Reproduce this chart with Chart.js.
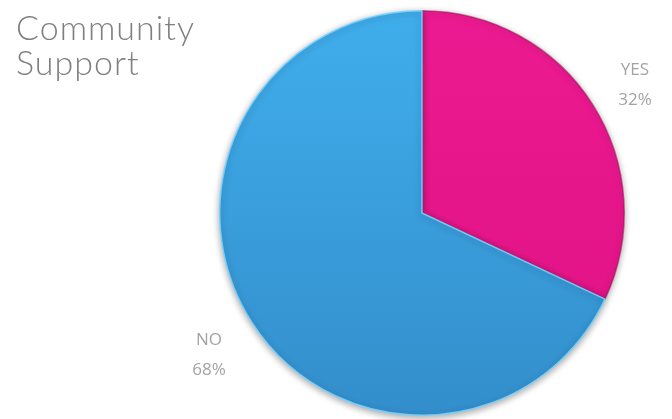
<!DOCTYPE html>
<html>
<head>
<meta charset="utf-8">
<style>
  html, body { margin: 0; padding: 0; background: #ffffff; }
  #wrap { width: 672px; height: 419px; position: relative; }
</style>
<script src="https://cdn.jsdelivr.net/npm/chart.js@4/dist/chart.umd.min.js"></script>
</head>
<body>
<div id="wrap"><canvas id="c" width="672" height="419"></canvas></div>
<script>
// Survey answers and their shares (percent)
const categories = ['YES', 'NO'];
const shares = [32, 68];
const titleLines = ['Community', 'Support'];

// Slice fill: a soft top-to-bottom gradient gives the glossy look
function sliceFill(ctx) {
  const chart = ctx.chart;
  const area = chart.chartArea;
  if (!area) return ctx.dataIndex === 0 ? '#E8168B' : '#3AA2E2';
  const g = chart.ctx.createLinearGradient(0, area.top, 0, area.bottom);
  if (ctx.dataIndex === 0) {
    g.addColorStop(0, '#EC1A90');
    g.addColorStop(1, '#DE1283');
  } else {
    g.addColorStop(0, '#40AEEC');
    g.addColorStop(1, '#338ECB');
  }
  return g;
}

// Drop shadow under the pie
const shadowPlugin = {
  id: 'pieShadow',
  beforeDatasetDraw(chart) {
    const c = chart.ctx;
    c.save();
    c.shadowColor = 'rgba(0,0,0,0.35)';
    c.shadowBlur = 7;
    c.shadowOffsetX = 0;
    c.shadowOffsetY = 2;
  },
  afterDatasetDraw(chart) {
    chart.ctx.restore();
  }
};

// Category name and percentage placed outside each slice along its mid angle
const outsideLabels = {
  id: 'outsideLabels',
  afterDatasetsDraw(chart) {
    const c = chart.ctx;
    const meta = chart.getDatasetMeta(0);
    c.save();
    c.fillStyle = '#A3A3A3';
    c.font = '17px "Open Sans", "Noto Sans", sans-serif';
    c.textAlign = 'center';
    c.textBaseline = 'alphabetic';
    meta.data.forEach((arc, i) => {
      const p = arc.getProps(['x', 'y', 'startAngle', 'endAngle', 'outerRadius'], true);
      const mid = (p.startAngle + p.endAngle) / 2;
      const r = p.outerRadius + 50;
      const x = p.x + Math.cos(mid) * r;
      const y = p.y + Math.sin(mid) * r;
      c.fillText(categories[i], x, y - 3);
      c.fillText(shares[i] + '%', x, y + 27);
    });
    c.restore();
  }
};

// Two-line heading at the top left
const headingPlugin = {
  id: 'heading',
  afterDraw(chart) {
    const c = chart.ctx;
    c.save();
    c.fillStyle = '#7F7F7F';
    c.font = '300 34px Lato, "Open Sans", sans-serif';
    if ('letterSpacing' in c) c.letterSpacing = '1px';
    c.textAlign = 'left';
    c.textBaseline = 'alphabetic';
    titleLines.forEach((t, i) => c.fillText(t, 16, 40 + i * 35));
    c.restore();
  }
};

new Chart(document.getElementById('c'), {
  type: 'pie',
  data: {
    labels: categories,
    datasets: [{
      data: shares,
      backgroundColor: sliceFill,
      borderColor: ['rgba(150,10,80,0.5)', 'rgba(120,210,255,0.9)'],
      borderWidth: 1.5,
      hoverOffset: 0
    }]
  },
  options: {
    responsive: false,
    animation: false,
    layout: { padding: { left: 219, right: 47, top: 10, bottom: 3 } },
    plugins: {
      legend: { display: false },
      tooltip: { enabled: false },
      title: { display: false }
    }
  },
  plugins: [shadowPlugin, outsideLabels, headingPlugin]
});
</script>
</body>
</html>
